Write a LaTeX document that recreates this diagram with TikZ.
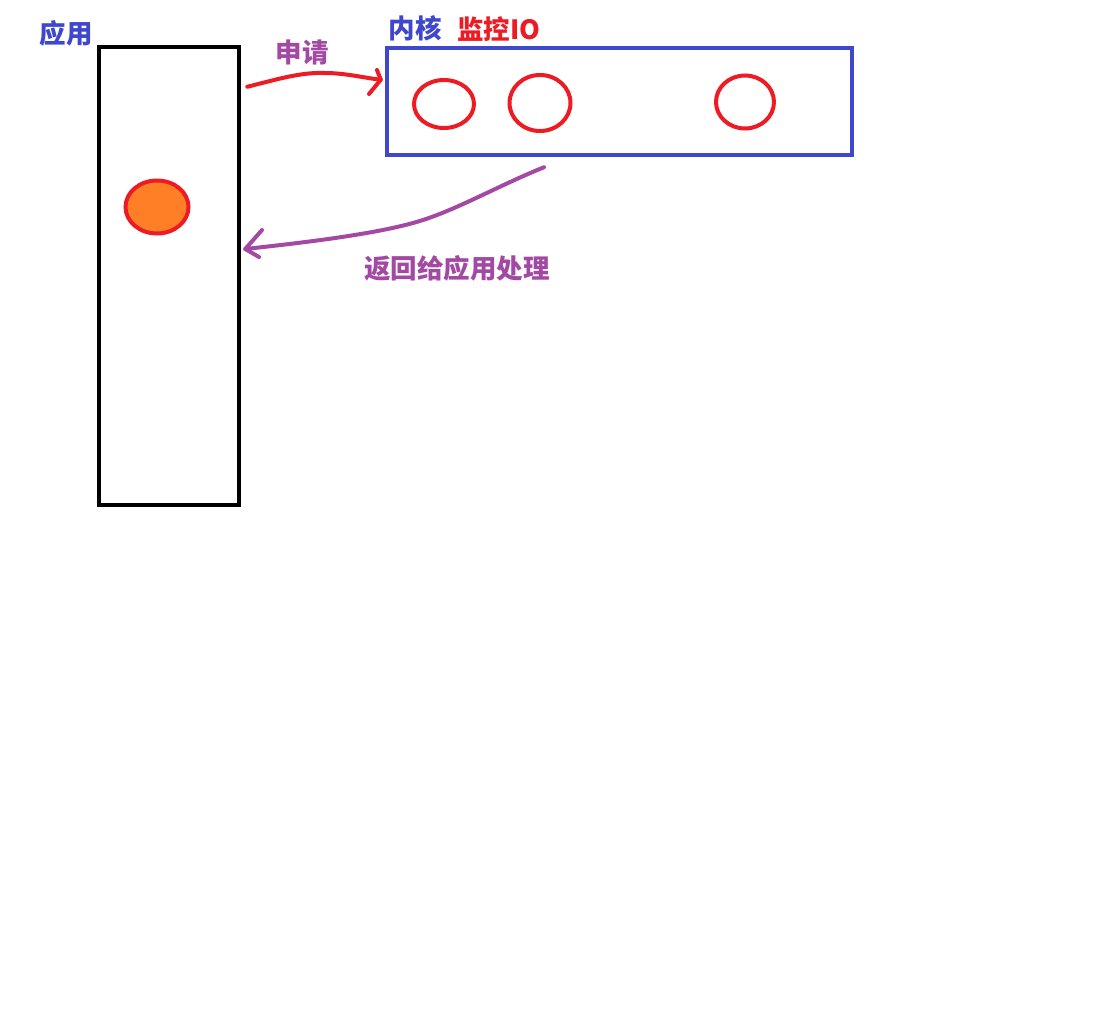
\documentclass[tikz,border=0pt]{standalone}
\usepackage{fontspec}
\usetikzlibrary{shapes.geometric}
\newfontfamily\cjk{Noto Sans CJK SC}
\definecolor{pred}{HTML}{ED1C24}
\definecolor{ppurple}{HTML}{A349A4}
\definecolor{pblue}{HTML}{3F48CC}
\definecolor{porange}{HTML}{FF7F27}
\begin{document}
\begin{tikzpicture}[x=1pt,y=-1pt,
  lbl/.style={font=\cjk\bfseries\fontsize{26.5}{26.5}\selectfont, inner sep=0pt, anchor=center},
  io/.style={ellipse, draw=pred, line width=4pt, inner sep=0pt},
  hand/.style={line width=4pt, line cap=round, line join=round}]
\useasboundingbox (0,0) rectangle (1106,1036);
\fill[white] (0,0) rectangle (1106,1036);
% application box
\node[draw=black, line width=4.5pt, minimum width=140pt, minimum height=458pt, inner sep=0pt] (app) at (169,276) {};
\node[lbl, text=pblue] (applbl) at (66,33) {应用};
% kernel box
\node[draw=pblue, line width=4.5pt, minimum width=465pt, minimum height=107pt, inner sep=0pt] (kern) at (619.5,101.5) {};
\node[lbl, text=pblue] (kernlbl) at (415,28) {内核};
\node[lbl, text=pred] (monlbl) at (499,29) {监控IO};
% IO ellipses
\node[io, minimum width=60pt, minimum height=48pt] (e1) at (444,104) {};
\node[io, minimum width=61pt, minimum height=56pt] (e2) at (540,103) {};
\node[io, minimum width=58pt, minimum height=53pt] (e3) at (745,102) {};
% orange dot
\node[ellipse, draw=pred, fill=porange, line width=4pt, inner sep=0pt, minimum width=63pt, minimum height=53pt] (dot) at (157,207) {};
% request arrow
\coordinate (rs) at ([xshift=6pt,yshift=-42pt]app.north east);
\coordinate (re) at ([xshift=-4pt,yshift=-34pt]kern.north west);
\draw[hand, pred] (rs) .. controls (275,80) and (300,72) .. (325,73) .. controls (345,73) and (365,78) .. (re);
\draw[hand, pred] (377,70) -- (re) -- (369,94);
\node[lbl, text=ppurple] (reqlbl) at (302,52) {申请};
% return arrow
\coordinate (bs) at ([xshift=-75.5pt,yshift=-10pt]kern.south);
\coordinate (be) at ([xshift=4pt,yshift=27pt]app.east);
\draw[hand, ppurple] (bs) .. controls (500,185) and (460,208) .. (423,220) .. controls (380,234) and (300,243) .. (be);
\draw[hand, ppurple] (262,230) -- (be) -- (259,257);
\node[lbl, text=ppurple] (retlbl) at (457,268) {返回给应用处理};
\end{tikzpicture}
\end{document}
